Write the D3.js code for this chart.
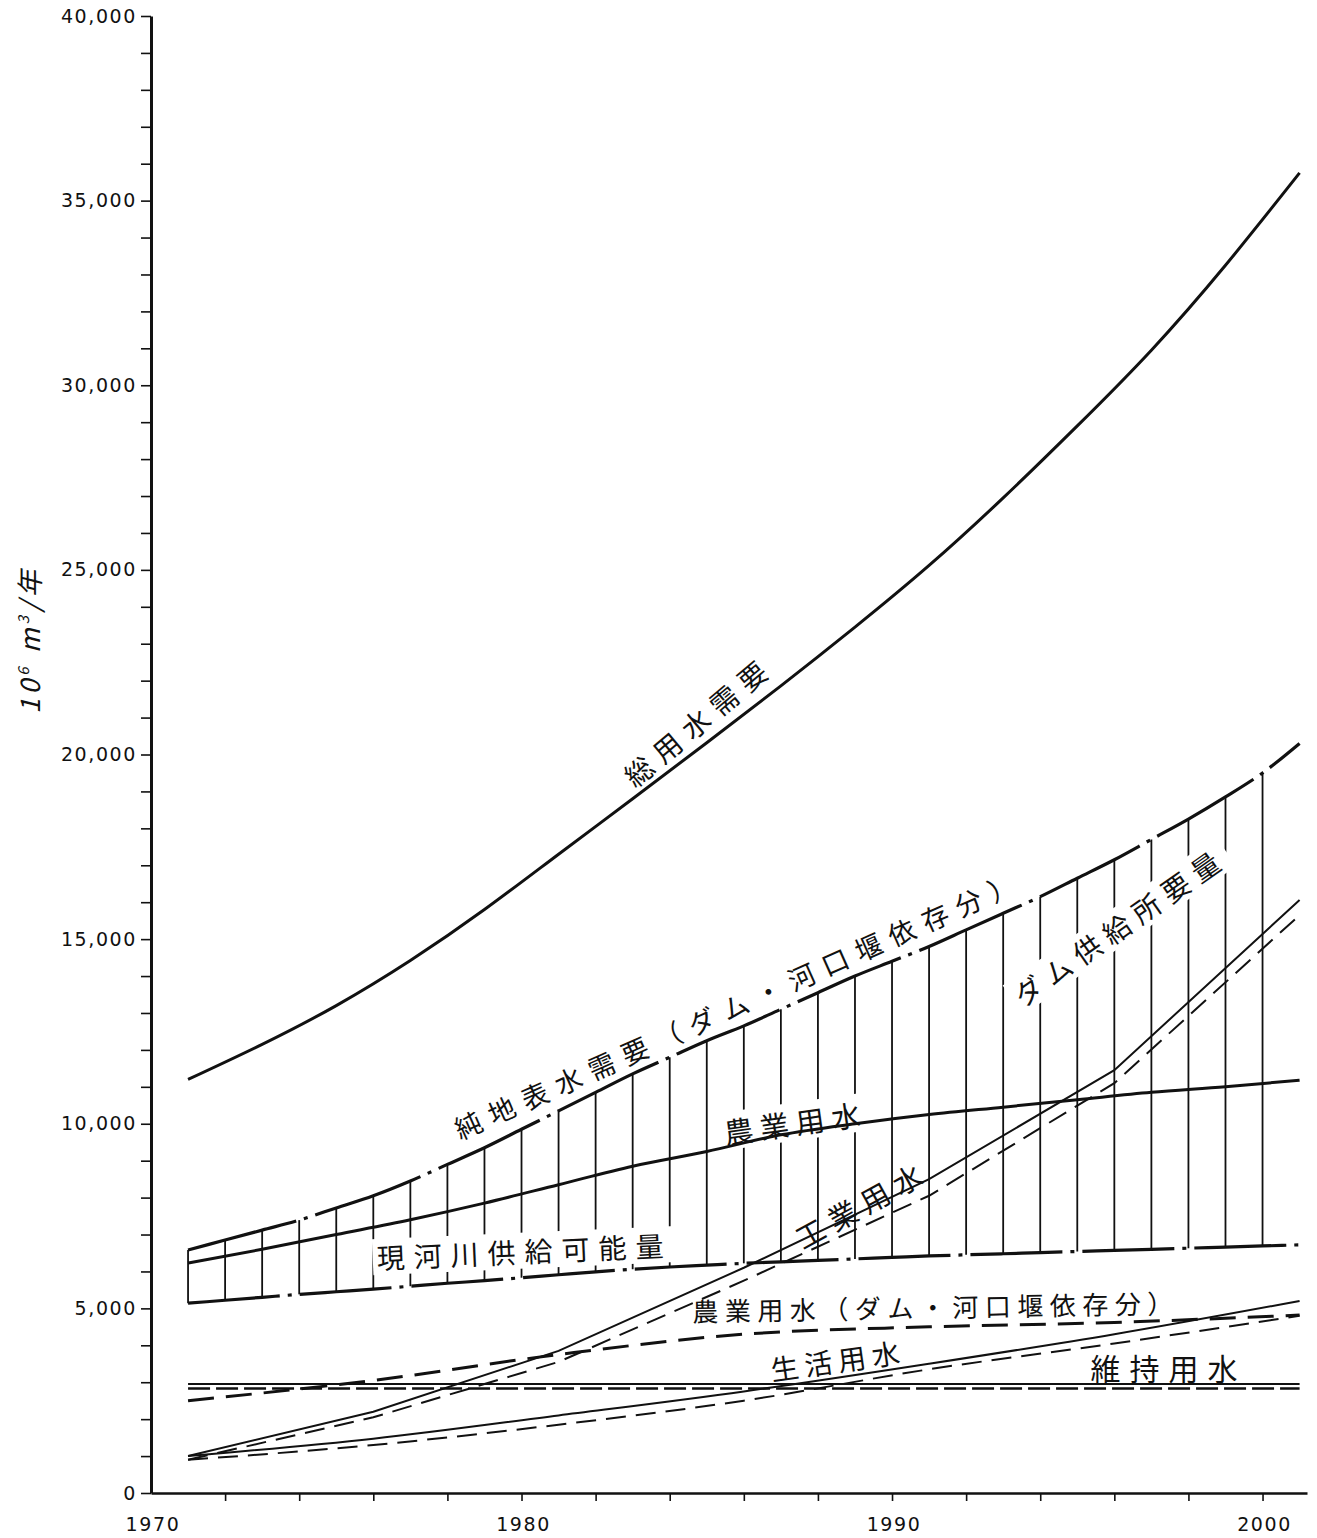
<!DOCTYPE html>
<html>
<head>
<meta charset="utf-8">
<script src="https://cdn.jsdelivr.net/npm/d3@7"></script>
<style>
  body { margin: 0; background: #fff; }
  svg { display: block; background: #fff; }
  .axis path, .axis line { stroke: #111; }
  .axis text { font-family: "DejaVu Sans", sans-serif; font-size: 19px; letter-spacing: 1.6px; fill: #111; }
  .xlab { font-family: "DejaVu Sans", sans-serif; font-size: 19px; letter-spacing: 1.6px; fill: #111; }
  .jp { font-family: "Noto Sans CJK JP", sans-serif; fill: #111; }
</style>
</head>
<body>
<svg id="chart" width="1317" height="1538"></svg>
<script>
// ---- data (10^6 m3 / year) ----
// yearly series: bounds of the hatched dam-supply band
const yearsAnnual = [1971,1972,1973,1974,1975,1976,1977,1978,1979,1980,
                     1981,1982,1983,1984,1985,1986,1987,1988,1989,1990,
                     1991,1992,1993,1994,1995,1996,1997,1998,1999,2000,2001];
const surfaceDemand = [6580,6850,7120,7390,7720,8050,8450,8900,9350,9850,
                       10350,10850,11350,11800,12250,12650,13100,13550,14000,14400,
                       14800,15250,15700,16150,16650,17150,17700,18250,18850,19500,20300];
const riverSupply = [5140,5220,5300,5380,5450,5520,5600,5680,5750,5830,
                     5910,5990,6060,6120,6170,6220,6260,6300,6340,6380,
                     6420,6450,6480,6510,6540,6570,6600,6630,6660,6690,6720];
const hatchYears = [1971,1972,1973,1974,1975,1976,1977,1978,1979,1980,
                    1981,1982,1983,1984,1985,1986,1987,1988,1989,1990,
                    1991,1992,1993,1994,1995,1996,1997,1998,1999,2000];

// two-year series
const yearsBiennial = [1971,1973,1975,1977,1979,1981,1983,1985,1987,1989,1991,1993,1995,1997,1999,2001];
const totalDemand = [11200,12150,13200,14420,15800,17300,18800,20320,21860,23450,25120,26950,28900,30950,33250,35750];
const agriculture = [6230,6600,7000,7400,7850,8350,8850,9250,9700,10000,10250,10450,10650,10850,11000,11180];

// five-year series
const yearsFive = [1971,1976,1981,1986,1991,1996,2001];
const industrial     = [1000,2200,3850,6100,8500,11450,16060];
const industrialDam  = [ 900,2050,3550,5750,8050,11100,15650];
const domestic       = [1000,1470,2100,2750,3500,4300,5200];
const domesticDam    = [ 900,1300,1850,2500,3350,4050,4800];
const agricultureDam = [2500,3050,3750,4300,4500,4620,4820];

// maintenance flow (flat)
const yearsSpan = [1971, 2001];
const maintenance    = [2950, 2950];
const maintenanceDam = [2830, 2830];

// axis labels
const yTickValues = [0,1000,2000,3000,4000,5000,6000,7000,8000,9000,10000,
                     11000,12000,13000,14000,15000,16000,17000,18000,19000,20000,
                     21000,22000,23000,24000,25000,26000,27000,28000,29000,30000,
                     31000,32000,33000,34000,35000,36000,37000,38000,39000,40000];
const yMajorValues = [0,5000,10000,15000,20000,25000,30000,35000,40000];
const yMajorLabels = ["0","5,000","10,000","15,000","20,000","25,000","30,000","35,000","40,000"];
const xTickValues = [1972,1974,1976,1978,1980,1982,1984,1986,1988,1990,1992,1994,1996,1998,2000];
const xLabelYears = [1970,1980,1990,2000];
const xLabels = ["1970","1980","1990","2000"];

// ---- chart ----
const svg = d3.select("#chart");
const x = d3.scaleLinear().domain([1970, 2001.2]).range([151, 1307]);
const y = d3.scaleLinear().domain([0, 40000]).range([1493, 16]);

// y axis
const yAxis = svg.append("g").attr("class", "axis")
  .attr("transform", `translate(${x(1970)},0)`)
  .call(d3.axisLeft(y).tickValues(yTickValues).tickSize(10).tickSizeOuter(0).tickPadding(4)
    .tickFormat(d => { const i = yMajorValues.indexOf(d); return i >= 0 ? yMajorLabels[i] : ""; }));
yAxis.select(".domain").attr("stroke-width", 3);
yAxis.selectAll(".tick line").attr("stroke-width", 1.6);

// x axis
const xAxis = svg.append("g").attr("class", "axis")
  .attr("transform", `translate(0,${y(0)})`)
  .call(d3.axisBottom(x).tickValues(xTickValues).tickSize(8).tickSizeOuter(0).tickFormat(""));
xAxis.select(".domain").attr("stroke-width", 2.5);
xAxis.selectAll(".tick line").attr("stroke-width", 1.6);

svg.append("g").selectAll("text").data(xLabelYears).join("text")
  .attr("class", "xlab")
  .attr("x", d => x(d) + 2)
  .attr("y", y(0) + 38)
  .attr("text-anchor", "middle")
  .text((d, i) => xLabels[i]);

// y axis title
const yt = svg.append("text").attr("class", "jp")
  .attr("transform", `translate(40,640) rotate(-90)`)
  .attr("text-anchor", "middle")
  .attr("font-size", 27)
  .attr("letter-spacing", 4)
  .attr("font-style", "italic");
yt.append("tspan").text("10");
yt.append("tspan").attr("font-size", 15).attr("dy", -11).text("6");
yt.append("tspan").attr("dy", 11).text(" m");
yt.append("tspan").attr("font-size", 15).attr("dy", -11).text("3");
yt.append("tspan").attr("dy", 11).text("/年");

// ---- layers ----
const hatchLayer = svg.append("g");
const bgLayer = svg.append("g");
const lineLayer = svg.append("g");
const textLayer = svg.append("g");

// hatched band: vertical rules between river supply and surface demand
const idx = yr => yearsAnnual.indexOf(yr);
hatchLayer.selectAll("line").data(hatchYears).join("line")
  .attr("x1", d => x(d)).attr("x2", d => x(d))
  .attr("y1", d => y(riverSupply[idx(d)]))
  .attr("y2", d => y(surfaceDemand[idx(d)]))
  .attr("stroke", "#111").attr("stroke-width", 1.8);

// ---- lines ----
function drawLine(years, values, opts) {
  const line = d3.line()
    .x((d, i) => x(years[i]))
    .y(d => y(d))
    .curve(opts.curve || d3.curveLinear);
  lineLayer.append("path")
    .attr("d", line(values))
    .attr("fill", "none")
    .attr("stroke", "#111")
    .attr("stroke-width", opts.width)
    .attr("stroke-dasharray", opts.dash || null)
    .attr("stroke-linecap", "butt");
}

drawLine(yearsBiennial, totalDemand, { width: 3, curve: d3.curveNatural });
drawLine(yearsAnnual, surfaceDemand, { width: 3.2, dash: "112,8,4,8", curve: d3.curveMonotoneX });
drawLine(yearsBiennial, agriculture, { width: 3, curve: d3.curveMonotoneX });
drawLine(yearsAnnual, riverSupply, { width: 3.2, dash: "92,8,4,8", curve: d3.curveMonotoneX });

drawLine(yearsFive, industrial, { width: 2 });
drawLine(yearsFive, industrialDam, { width: 2, dash: "20,10" });
drawLine(yearsFive, agricultureDam, { width: 3, dash: "26,12", curve: d3.curveMonotoneX });
drawLine(yearsFive, domestic, { width: 2, curve: d3.curveMonotoneX });
drawLine(yearsFive, domesticDam, { width: 2, dash: "20,10", curve: d3.curveMonotoneX });
drawLine(yearsSpan, maintenance, { width: 2 });
drawLine(yearsSpan, maintenanceDam, { width: 2.6, dash: "22,6" });

// ---- labels ----
const labels = [
  { text: "総用水需要", year: 1984.68, value: 20850, angle: -40, size: 28, spacing: 9 },
  { text: "純地表水需要（ダム・河口堰依存分）", year: 1985.75, value: 13200, angle: -24, size: 27, spacing: 9.5 },
  { text: "農業用水", year: 1987.30, value: 10050, angle: -8, size: 29, spacing: 7, bg: true },
  { text: "現河川供給可能量", year: 1979.96, value: 6560, angle: -2.5, size: 28, spacing: 9, bg: true },
  { text: "工業用水", year: 1989.08, value: 7800, angle: -29, size: 29, spacing: 8 },
  { text: "ダム供給所要量", year: 1996.05, value: 15300, angle: -35, size: 28, spacing: 8, bg: true },
  { text: "農業用水（ダム・河口堰依存分）", year: 1991.1, value: 5065, angle: -1, size: 26, spacing: 6.5 },
  { text: "生活用水", year: 1988.46, value: 3600, angle: -8, size: 28, spacing: 6 },
  { text: "維持用水", year: 1997.34, value: 3410, angle: 0, size: 30, spacing: 9 }
];

labels.forEach(l => {
  const tf = `translate(${x(l.year)},${y(l.value)}) rotate(${l.angle})`;
  const t = textLayer.append("text").attr("class", "jp")
    .attr("transform", tf)
    .attr("font-size", l.size)
    .attr("letter-spacing", l.spacing)
    .attr("text-anchor", "middle")
    .attr("dominant-baseline", "central")
    .attr("dx", l.spacing / 2)
    .text(l.text);
  if (l.bg) {
    const b = t.node().getBBox();
    bgLayer.append("rect").attr("transform", tf).attr("fill", "#fff")
      .attr("x", b.x - 4).attr("y", b.y + 2).attr("width", b.width + 8).attr("height", b.height - 4);
  }
});
</script>
</body>
</html>
